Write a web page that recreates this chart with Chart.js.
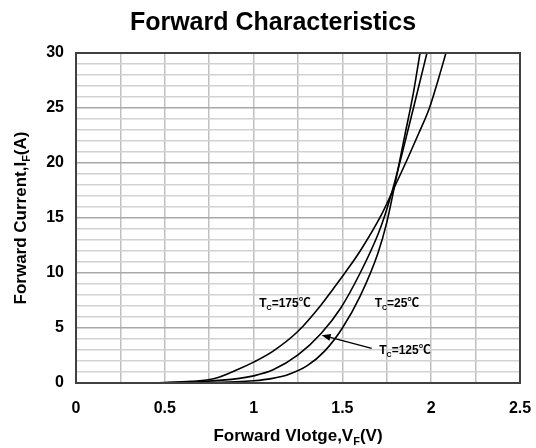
<!DOCTYPE html>
<html>
<head>
<meta charset="utf-8">
<script src="https://cdn.jsdelivr.net/npm/chart.js@4"></script>
<style>
  body { margin: 0; background: #fff; }
  canvas { display: block; }
</style>
</head>
<body>
<canvas id="fwdChart" width="536" height="448"></canvas>
<script>
// values
const v25 = [0, 0.5, 0.7, 0.9, 1.0, 1.1, 1.2, 1.3, 1.4, 1.5, 1.6, 1.7, 1.75, 1.8, 1.85, 1.9, 1.937];
const i25 = [0, 0, 0.02, 0.1, 0.2, 0.4, 0.8, 1.55, 2.9, 5.0, 7.9, 11.8, 14.6, 18.4, 22.4, 26.4, 30];

const v125 = [0, 0.5, 0.7, 0.92, 1.0, 1.11, 1.25, 1.38, 1.49, 1.6, 1.7, 1.74, 1.79, 1.84, 1.9, 1.976];
const i125 = [0, 0.02, 0.12, 0.42, 0.65, 1.2, 2.55, 4.5, 6.8, 10.0, 13.5, 15.3, 18.0, 21.1, 25, 30];

const v175 = [0, 0.3, 0.5, 0.65, 0.78, 0.92, 1.0, 1.11, 1.25, 1.38, 1.45, 1.514, 1.6, 1.72, 1.79, 1.87, 1.93, 1.99, 2.04, 2.083];
const i175 = [0, 0.01, 0.05, 0.15, 0.4, 1.3, 1.9, 2.9, 4.7, 7.1, 8.6, 10.0, 12.0, 15.3, 17.7, 20.5, 22.7, 25, 27.6, 30];

const xTickLabels = ['0', '0.5', '1', '1.5', '2', '2.5'];
const yTickLabels = ['0', '5', '10', '15', '20', '25', '30'];

const FONT = "'Liberation Sans', Arial, 'Noto Sans CJK SC', sans-serif";

function toPoints(xs, ys) {
    return xs.map((x, k) => ({ x: x, y: ys[k] }));
}

// text with a subscript part, e.g. T_C or V_F
function drawRich(ctx, parts, x, y, size) {
    const subSize = Math.round(size * 0.62);
    let w = 0;
    parts.forEach(p => {
        ctx.font = `bold ${p.sub ? subSize : size}px ${FONT}`;
        p.w = ctx.measureText(p.t).width;
        w += p.w;
    });
    let cx = x - w / 2;
    ctx.textAlign = 'left';
    ctx.textBaseline = 'alphabetic';
    parts.forEach(p => {
        ctx.font = `bold ${p.sub ? subSize : size}px ${FONT}`;
        ctx.fillText(p.t, cx, p.sub ? y + size * 0.22 : y);
        cx += p.w;
    });
}

const extrasPlugin = {
    id: 'extras',
    afterDraw(chart) {
        const ctx = chart.ctx;
        const a = chart.chartArea;
        const xs = chart.scales.x;
        const ys = chart.scales.y;
        ctx.save();

        // frame top + right
        ctx.strokeStyle = '#404040';
        ctx.lineWidth = 2;
        ctx.strokeRect(a.left, a.top, a.right - a.left, a.bottom - a.top);

        ctx.fillStyle = '#000';
        // title
        ctx.font = `bold 25px ${FONT}`;
        ctx.textAlign = 'center';
        ctx.textBaseline = 'middle';
        ctx.fillText('Forward Characteristics', 273, 23);

        // x axis title
        drawRich(ctx, [{ t: 'Forward Vlotge,V' }, { t: 'F', sub: true }, { t: '(V)' }], (a.left + a.right) / 2, 441, 17);

        // y axis title
        ctx.save();
        ctx.translate(26, (a.top + a.bottom) / 2);
        ctx.rotate(-Math.PI / 2);
        drawRich(ctx, [{ t: 'Forward Current,I' }, { t: 'F', sub: true }, { t: '(A)' }], 0, 0, 17);
        ctx.restore();

        // curve labels
        drawRich(ctx, [{ t: 'T' }, { t: 'C', sub: true }, { t: '=175℃' }], 285, 307, 12);
        drawRich(ctx, [{ t: 'T' }, { t: 'C', sub: true }, { t: '=25℃' }], 397, 307, 12);
        drawRich(ctx, [{ t: 'T' }, { t: 'C', sub: true }, { t: '=125℃' }], 405, 354, 12);

        // arrow pointing at the 125 curve
        const x0 = xs.getPixelForValue(1.665), y0 = ys.getPixelForValue(3.15);
        const x1 = xs.getPixelForValue(1.383), y1 = ys.getPixelForValue(4.35);
        const ang = Math.atan2(y1 - y0, x1 - x0);
        ctx.strokeStyle = '#000';
        ctx.lineWidth = 1.3;
        ctx.beginPath();
        ctx.moveTo(x0, y0);
        ctx.lineTo(x1 - 6 * Math.cos(ang), y1 - 6 * Math.sin(ang));
        ctx.stroke();
        ctx.beginPath();
        ctx.moveTo(x1, y1);
        ctx.lineTo(x1 - 9 * Math.cos(ang) + 3.5 * Math.sin(ang), y1 - 9 * Math.sin(ang) - 3.5 * Math.cos(ang));
        ctx.lineTo(x1 - 9 * Math.cos(ang) - 3.5 * Math.sin(ang), y1 - 9 * Math.sin(ang) + 3.5 * Math.cos(ang));
        ctx.closePath();
        ctx.fill();

        ctx.restore();
    }
};

const lineStyle = {
    borderColor: '#000',
    borderWidth: 1.6,
    pointRadius: 0,
    fill: false,
    cubicInterpolationMode: 'monotone'
};

new Chart(document.getElementById('fwdChart').getContext('2d'), {
    type: 'line',
    data: {
        datasets: [
            { label: 'Tc=25', data: toPoints(v25, i25), ...lineStyle },
            { label: 'Tc=125', data: toPoints(v125, i125), ...lineStyle },
            { label: 'Tc=175', data: toPoints(v175, i175), ...lineStyle }
        ]
    },
    options: {
        responsive: false,
        animation: false,
        layout: { padding: { top: 53, right: 16, left: 0, bottom: 0 } },
        plugins: {
            legend: { display: false },
            title: { display: false },
            tooltip: { enabled: false }
        },
        scales: {
            x: {
                type: 'linear',
                min: 0,
                max: 2.5,
                afterFit: s => {
                    s.height = 65;
                    s.paddingLeft = 0;
                    s.paddingRight = 0;
                },
                ticks: {
                    stepSize: 0.25,
                    padding: 16,
                    color: '#000',
                    font: { family: FONT, size: 16, weight: 'bold' },
                    callback: v => {
                        const k = Math.round(v * 2);
                        return Math.abs(v * 2 - k) < 1e-6 ? xTickLabels[k] : '';
                    }
                },
                grid: { color: '#c0c0c0', lineWidth: 1.5, drawTicks: false },
                border: { color: '#404040', width: 2 }
            },
            y: {
                min: 0,
                max: 30,
                afterFit: s => { s.width = 76; },
                ticks: {
                    stepSize: 1,
                    padding: 12,
                    color: '#000',
                    font: { family: FONT, size: 16, weight: 'bold' },
                    autoSkip: false,
                    callback: v => (v % 5 === 0 ? yTickLabels[v / 5] : '')
                },
                grid: {
                    color: c => (c.tick && c.tick.value % 5 === 0 ? '#a8a8a8' : '#d2d2d2'),
                    lineWidth: 1.5,
                    drawTicks: false
                },
                border: { color: '#404040', width: 2 }
            }
        }
    },
    plugins: [extrasPlugin]
});
</script>
</body>
</html>
